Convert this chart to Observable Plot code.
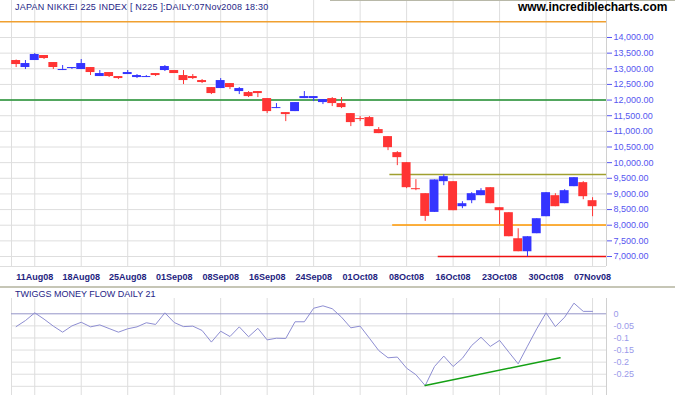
<!DOCTYPE html>
<html><head><meta charset="utf-8">
<script src="https://cdn.jsdelivr.net/npm/d3@7"></script>
<script src="https://cdn.jsdelivr.net/npm/@observablehq/plot@0.6"></script>
<style>
html,body{margin:0;padding:0;background:#fff;}
#wrap{position:relative;width:675px;height:395px;overflow:hidden;background:#fff;font-family:"Liberation Sans",Arial,sans-serif;}
#main,#lower{position:absolute;left:0;}
#main{top:0}
#lower{top:287px}
.t{position:absolute;white-space:nowrap;line-height:1;}
</style></head><body>
<div id="wrap">
  <div id="main"></div>
  <div id="lower"></div>
  <div class="t" style="left:15px;top:3px;font-size:9px;letter-spacing:0.2px;color:#1e1e86">JAPAN NIKKEI 225 INDEX [ N225 ]:DAILY:07Nov2008 18:30</div>
  <div class="t" style="left:518px;top:1px;font-size:12px;font-weight:bold;letter-spacing:-0.1px;color:#000">www.incrediblecharts.com</div>
  <div class="t" style="left:15px;top:290px;font-size:9px;color:#1e1e86">TWIGGS MONEY FLOW DAILY 21</div>
  <div style="position:absolute;left:0;top:286px;width:675px;height:2px;background:#c6c6b6"></div>
  <div style="position:absolute;left:330px;top:0;width:345px;height:1px;background:#b8b8a8"></div>
</div>
<script>
// ---- data ----
const days = ["07Aug08","08Aug08","11Aug08","12Aug08","13Aug08","14Aug08","15Aug08",
"18Aug08","19Aug08","20Aug08","21Aug08","22Aug08","25Aug08","26Aug08","27Aug08","28Aug08","29Aug08",
"01Sep08","02Sep08","03Sep08","04Sep08","05Sep08","08Sep08","09Sep08","10Sep08","11Sep08","12Sep08",
"16Sep08","17Sep08","18Sep08","19Sep08","22Sep08","24Sep08","25Sep08","26Sep08",
"29Sep08","30Sep08","01Oct08","02Oct08","03Oct08","06Oct08","07Oct08","08Oct08","09Oct08","10Oct08",
"14Oct08","15Oct08","16Oct08","17Oct08","20Oct08","21Oct08","22Oct08","23Oct08","24Oct08",
"27Oct08","28Oct08","29Oct08","30Oct08","31Oct08","04Nov08","05Nov08","06Nov08","07Nov08"];

const opens  = [13264,13040,13264,13424,13200,12944,13008,12976,13040,12752,12880,12752,12816,12720,12720,12848,12944,
12944,12784,12752,12624,12400,12368,12528,12272,12240,12272,12048,11728,11600,11632,12048,12048,11920,12048,
11888,11568,11408,11440,11056,10832,10320,10000,9168,9008,8410,9392,9392,8592,8784,8944,9200,8560,8400,
7568,7152,7728,8272,8944,8688,9232,9360,8784];
const highs  = [13280,13264,13488,13424,13200,13104,13040,13296,13040,12944,12880,12752,12944,12816,12784,12848,13104,
12944,12944,12816,12656,12400,12688,12528,12400,12272,12272,12048,11888,11600,11920,12272,12112,12016,12080,
12080,11568,11472,11472,11120,10832,10352,10000,9456,9008,9447,9616,9392,8752,9040,9168,9200,8560,8400,
7888,7632,8208,9040,9008,9136,9520,9392,8880];
const lows   = [13040,12976,13264,13296,12976,12944,12976,12976,12784,12752,12720,12656,12816,12688,12720,12752,12912,
12848,12496,12656,12528,12176,12368,12336,12176,12080,12080,11568,11728,11312,11632,12048,11952,11856,11792,
11728,11152,11312,11152,10928,10384,9904,9168,9104,8122,8410,9264,8464,8528,8688,8944,8688,8016,7632,
7152,6992,7728,8272,8592,8688,9232,8816,8272];
const closes = [13136,13168,13456,13328,13040,12976,13040,13168,12880,12848,12752,12688,12880,12784,12752,12784,13072,
12848,12624,12688,12560,12208,12624,12400,12368,12112,12208,11632,11760,11536,11920,12112,12112,12016,11888,
11760,11280,11376,11152,10928,10480,10160,9200,9136,8282,9447,9552,8464,8688,9008,9104,8688,8464,7632,
7152,7632,8208,9040,8592,9104,9520,8912,8592];

// Twiggs Money Flow (21)
const moneyFlow = [-0.053,-0.028,0.004,-0.022,-0.051,-0.076,-0.050,-0.035,-0.054,-0.046,-0.061,-0.076,-0.062,-0.054,-0.037,-0.044,0.004,
-0.036,-0.053,-0.051,-0.069,-0.117,-0.072,-0.094,-0.054,-0.095,-0.060,-0.108,-0.101,-0.102,-0.033,-0.033,0.023,0.033,0.021,
-0.014,-0.058,-0.051,-0.101,-0.152,-0.182,-0.179,-0.225,-0.252,-0.297,-0.218,-0.175,-0.218,-0.184,-0.131,-0.097,-0.135,-0.110,-0.159,
-0.207,-0.134,-0.062,0.004,-0.053,-0.014,0.044,0.010,0.010];

const tickLabels = ["11Aug08","18Aug08","25Aug08","01Sep08","08Sep08","16Sep08","24Sep08","01Oct08","08Oct08","16Oct08","23Oct08","30Oct08","07Nov08"];
const priceTicks = [7000,7500,8000,8500,9000,9500,10000,10500,11000,11500,12000,12500,13000,13500,14000];
const flowTicks = [0,-0.05,-0.1,-0.15,-0.2,-0.25];
const flowTickLabels = ["0","-0.05","-0.1","-0.15","-0.2","-0.25"];
const flowGrid = [-0.05,-0.1,-0.15,-0.2,-0.25,-0.3];

// horizontal level lines drawn on price panel (value, start day index or null = full width)
const levelValues = [14500, 12000, 9620, 8010, 7000];
const levelStarts = [null, null, 40.2, 40.5, 45.4];
const levelColors = ["#f0a030", "#1f8f2f", "#a0a030", "#ff9900", "#ee1111"];

// trend line on money flow
const trendDays = [44, 58.5];
const trendValues = [-0.297, -0.182];

// ---- build ----
const BLUE = "#3434ff", RED = "#ff3434";
const candles = days.map((d, i) => ({i, open: opens[i], high: highs[i], low: lows[i], close: closes[i]}));
const tickIdx = tickLabels.map(l => days.indexOf(l));
const xDomain = [-1.683, days.length + 0.5];
const gridX = [-0.5, ...tickIdx];
const levels = levelValues.map((v, k) => ({value: v, from: levelStarts[k] ?? xDomain[0], to: xDomain[1], color: levelColors[k]}));
const flow = moneyFlow.map((v, i) => ({i, v}));
const trend = trendDays.map((d, k) => ({i: d, v: trendValues[k]}));
const colorOf = d => d.close >= d.open ? BLUE : RED;
const fnt = "Liberation Sans, Arial, sans-serif";

const main = Plot.plot({
  width: 675, height: 287,
  marginTop: 0, marginBottom: 21, marginLeft: 0, marginRight: 69,
  style: {fontFamily: fnt, fontSize: "9px", background: "transparent"},
  x: {domain: xDomain, axis: null},
  y: {domain: [6680.5, 15182.6], axis: null},
  color: {type: "identity"},
  marks: [
    Plot.ruleY(priceTicks, {stroke: "#dedede"}),
    Plot.ruleY([6680.5], {stroke: "#dedede"}),
    Plot.ruleX(gridX, {stroke: "#dedede"}),
    Plot.ruleX([xDomain[1]], {stroke: "#d0d0d0"}),
    Plot.ruleY(levels, {y: "value", x1: "from", x2: "to", stroke: "color", strokeWidth: 1.5}),
    Plot.ruleX(candles, {x: "i", y1: "low", y2: "high", stroke: colorOf, strokeWidth: 1}),
    Plot.rect(candles, {x1: d => d.i - 0.48, x2: d => d.i + 0.48, y1: "open", y2: "close", fill: colorOf}),
    Plot.axisY(priceTicks, {anchor: "right", label: null, tickSize: 5, tickPadding: 2, tickFormat: d3.format(",.2f"), color: "#5656f0", fontSize: 9}),
    Plot.axisX(tickIdx, {anchor: "bottom", label: null, tickSize: 0, tickPadding: 7, tickFormat: i => days[i], color: "#1e1e80", fontWeight: "bold", fontSize: 9})
  ]
});
document.getElementById("main").append(main);

const lower = Plot.plot({
  width: 675, height: 108,
  marginTop: 11, marginBottom: 0, marginLeft: 0, marginRight: 69,
  style: {fontFamily: fnt, fontSize: "9px", background: "transparent"},
  x: {domain: xDomain, axis: null},
  y: {domain: [-0.338, 0.0633], axis: null},
  marks: [
    Plot.ruleY(flowGrid, {x1: -0.5, x2: xDomain[1], stroke: "#dedede"}),
    Plot.ruleX(gridX, {stroke: "#dedede"}),
    Plot.ruleX([xDomain[1]], {stroke: "#d0d0d0"}),
    Plot.ruleY([0], {x1: -0.5, x2: xDomain[1], stroke: "#9494c8"}),
    Plot.line(flow, {x: "i", y: "v", stroke: "#8e8ed2", strokeWidth: 1}),
    Plot.line(trend, {x: "i", y: "v", stroke: "#14a014", strokeWidth: 1.5}),
    Plot.axisY(flowTicks, {anchor: "right", label: null, tickSize: 0, tickPadding: 7, tickFormat: (d, k) => flowTickLabels[k], color: "#9a9aea", fontSize: 9})
  ]
});
document.getElementById("lower").append(lower);
</script>
</body></html>
